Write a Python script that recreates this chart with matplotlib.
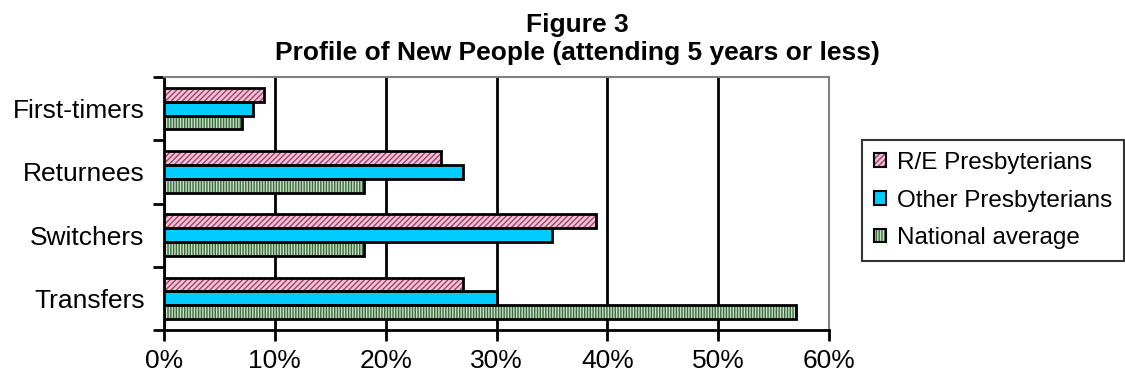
import matplotlib
matplotlib.use("Agg")
import matplotlib.pyplot as plt
import numpy as np
from matplotlib.patches import Patch
from matplotlib.legend_handler import HandlerTuple
from matplotlib.ticker import FuncFormatter

plt.rcParams['font.family'] = ['Liberation Sans', 'DejaVu Sans']
plt.rcParams['hatch.linewidth'] = 1.0

categories = ["Transfers", "Switchers", "Returnees", "First-timers"]
series_names = ["R/E Presbyterians", "Other Presbyterians", "National average"]
re_presb = [27, 39, 25, 9]
other_presb = [30, 35, 27, 8]
national = [57, 18, 18, 7]
x_ticks = [0, 10, 20, 30, 40, 50, 60]

styles = [
    dict(face="#f2c4d6", hatch="//////", hatchcol="#a0406a"),
    dict(face="#00ccff", hatch=None, hatchcol="#00ccff"),
    dict(face="#c8e0c8", hatch="||||||", hatchcol="#3d6b3d"),
]

fig = plt.figure(figsize=(11.25, 3.79), dpi=100)
ax = fig.add_axes([164/1125, 1-330/379, (829-164)/1125, (330-77)/379])

y = np.arange(len(categories))
h = 0.22
offsets = [h, 0, -h]
handles = []
for vals, off, st, name in zip([re_presb, other_presb, national], offsets, styles, series_names):
    ax.barh(y + off, vals, height=h, color=st["face"], hatch=st["hatch"],
            edgecolor=st["hatchcol"], linewidth=0, zorder=3)
    ax.barh(y + off, vals, height=h, fill=False, edgecolor="black", linewidth=2, zorder=4)
    p1 = Patch(facecolor=st["face"], hatch=st["hatch"], edgecolor=st["hatchcol"], linewidth=0)
    p2 = Patch(fill=False, edgecolor="black", linewidth=1.5)
    handles.append((p1, p2))

ax.set_xlim(0, 60)
ax.set_ylim(-0.5, len(categories) - 0.5)
ax.set_xticks(x_ticks)
ax.xaxis.set_major_formatter(FuncFormatter(lambda v, p: f"{v:.0f}%"))
ax.set_yticks(np.arange(-0.5, len(categories), 1.0), minor=False)
ax.set_yticklabels([])
ax.set_yticks(y, minor=True)
ax.set_yticklabels(categories, minor=True)
ax.tick_params(axis='y', which='minor', length=0, labelsize=19, pad=14)
ax.tick_params(axis='y', which='major', length=8, width=2, direction='out')
ax.tick_params(axis='x', which='major', length=8, width=2, direction='out', labelsize=19, pad=6)
ax.grid(axis='x', color='black', linewidth=2, zorder=1)

for s in ['top', 'right']:
    ax.spines[s].set_color('#808080')
    ax.spines[s].set_linewidth(1.5)
for s in ['left', 'bottom']:
    ax.spines[s].set_color('black')
    ax.spines[s].set_linewidth(2)

fig.text(577/1125, 1-32/379, "Figure 3", ha='center', va='baseline', fontsize=19, fontweight='bold')
fig.text(577/1125, 1-60/379, "Profile of New People (attending 5 years or less)", ha='center',
         va='baseline', fontsize=19, fontweight='bold')

leg = fig.legend(handles, series_names, handler_map={tuple: HandlerTuple(ndivide=1)},
                 loc='center left', bbox_to_anchor=(862/1125, 1-200.5/379), fontsize=17.5,
                 frameon=True, fancybox=False, edgecolor='black', handlelength=0.47,
                 handleheight=0.47, handletextpad=0.45, borderpad=0.5, labelspacing=0.65,
                 borderaxespad=0)
leg.get_frame().set_linewidth(1.5)

fig.savefig("out.png", dpi=100)
